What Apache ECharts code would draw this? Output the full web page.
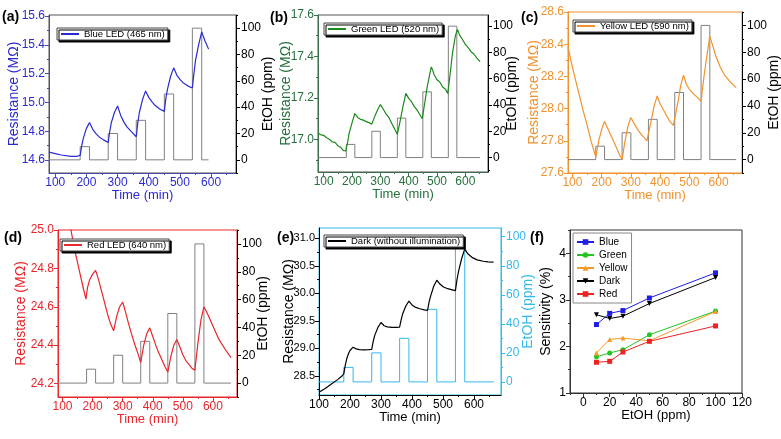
<!DOCTYPE html>
<html>
<head>
<meta charset="utf-8">
<script src="https://cdn.jsdelivr.net/npm/echarts@6/dist/echarts.min.js"></script>
<style>
html, body { margin: 0; padding: 0; background: #fff; }
#chart { width: 781px; height: 439px; }
</style>
</head>
<body>
<div id="chart"></div>
<script>
// ethanol pulses (same for every LED run)
var pulseStart = [180, 270, 360, 450, 540];
var pulseConc = [10, 20, 30, 50, 100];
var pulseWidth = 30;

var timeTicks = [100, 200, 300, 400, 500, 600];
var ppmTicks = [0, 20, 40, 60, 80, 100];

// (a) blue LED
var blueT = [80,100,120,150,170,180,185,190,200,210,220,230,240,255,270,275,280,290,300,310,320,330,345,360,365,370,380,390,400,410,420,435,450,455,460,470,480,490,500,510,525,540,545,550,560,570,580,592];
var blueR = [14.655,14.645,14.635,14.625,14.626,14.632,14.70,14.75,14.82,14.86,14.815,14.785,14.762,14.74,14.722,14.80,14.86,14.93,14.975,14.91,14.865,14.83,14.795,14.762,14.86,14.93,15.02,15.08,15.035,15.005,14.98,14.955,14.938,15.03,15.09,15.18,15.24,15.19,15.16,15.137,15.115,15.10,15.20,15.29,15.40,15.49,15.43,15.37];

// (b) green LED
var greenT = [80,90,100,110,120,130,140,150,160,170,178,185,190,200,210,215,220,230,240,250,260,270,280,290,300,305,310,320,330,340,350,360,370,380,390,400,410,420,430,440,448,455,465,475,480,485,490,500,510,520,530,538,545,555,565,572,580,590,600,610,620,630,640,652];
var greenR = [17.032,17.022,17.020,17.008,17.001,16.988,16.986,16.970,16.962,16.946,16.945,16.99,17.03,17.08,17.125,17.116,17.106,17.097,17.093,17.086,17.081,17.074,17.11,17.142,17.168,17.158,17.147,17.123,17.106,17.078,17.052,17.025,17.09,17.16,17.222,17.198,17.182,17.158,17.142,17.118,17.10,17.16,17.25,17.32,17.35,17.333,17.312,17.288,17.277,17.253,17.242,17.222,17.30,17.42,17.50,17.53,17.503,17.482,17.458,17.443,17.423,17.412,17.393,17.375];

// (c) yellow LED
var yellowT = [85,95,105,120,135,150,165,180,190,200,210,220,235,250,262,270,280,290,300,310,325,340,355,360,370,380,390,400,415,430,445,450,460,470,480,490,500,515,530,540,550,560,570,580,590,605,620,640,660];
var yellowR = [28.38,28.30,28.22,28.11,28.00,27.90,27.79,27.70,27.80,27.87,27.92,27.88,27.82,27.76,27.71,27.685,27.80,27.89,27.945,27.91,27.865,27.83,27.80,27.795,27.93,28.02,28.078,28.03,27.98,27.93,27.895,27.89,28.03,28.14,28.208,28.15,28.12,28.09,28.065,28.045,28.20,28.33,28.45,28.39,28.33,28.26,28.21,28.165,28.13];

// (d) red LED
var redT = [85,110,128,140,150,160,170,178,183,190,200,210,220,230,240,250,260,270,280,290,300,310,320,330,340,350,360,370,380,390,400,410,420,430,440,450,460,470,480,490,500,510,520,530,540,550,560,570,580,600,620,640,660];
var redR = [25.30,25.13,25.00,24.90,24.83,24.76,24.69,24.64,24.70,24.74,24.77,24.79,24.74,24.68,24.62,24.56,24.51,24.475,24.55,24.60,24.625,24.57,24.51,24.455,24.405,24.36,24.31,24.40,24.46,24.49,24.445,24.40,24.36,24.325,24.29,24.26,24.34,24.40,24.43,24.39,24.35,24.32,24.30,24.28,24.27,24.41,24.53,24.60,24.57,24.50,24.43,24.38,24.335];

// (e) dark
var darkT = [100,120,140,160,175,180,185,190,195,200,210,220,230,245,260,270,275,280,290,300,310,320,335,350,360,365,370,380,390,400,410,425,440,450,455,460,470,480,490,500,515,530,540,545,550,560,570,580,595,610,630,645,663];
var darkR = [28.20,28.27,28.35,28.43,28.50,28.54,28.70,28.82,28.90,28.96,29.02,28.99,28.975,28.97,28.975,28.98,29.13,29.24,29.38,29.47,29.41,29.39,29.38,29.38,29.385,29.52,29.63,29.77,29.86,29.79,29.75,29.72,29.70,29.69,29.84,29.95,30.13,30.24,30.17,30.12,30.085,30.065,30.05,30.25,30.40,30.63,30.81,30.72,30.65,30.61,30.585,30.575,30.57];

// (f) sensitivity vs EtOH
var ppmLevels = [10, 20, 30, 50, 100];
var sensBlue = [2.47, 2.71, 2.77, 3.04, 3.58];
var sensGreen = [1.78, 1.86, 1.93, 2.25, 2.76];
var sensYellow = [1.86, 2.15, 2.18, 2.12, 2.75];
var sensDark = [2.68, 2.60, 2.65, 2.92, 3.48];
var sensRed = [1.66, 1.68, 1.88, 2.11, 2.44];

var FONT = "'Liberation Sans', Arial, sans-serif";

function zip(a, b) {
    var res = [];
    for (var i = 0; i < a.length; i++) res.push([a[i], b[i]]);
    return res;
}

function stepData(t0, t1) {
    var d = [[t0, 0]];
    for (var i = 0; i < pulseStart.length; i++) {
        var s = pulseStart[i], e = s + pulseWidth;
        d.push([s, 0], [s, pulseConc[i]], [e, pulseConc[i]], [e, 0]);
    }
    d.push([t1, 0]);
    return d;
}

// minor tick positions: halfway between the major ticks, plus one beyond each end if inside the range
function halfTicks(ticks, min, max) {
    var h = (ticks[1] - ticks[0]) / 2, res = [];
    var first = ticks[0] - h, last = ticks[ticks.length - 1] + h;
    if (first >= min) res.push(first);
    for (var i = 0; i < ticks.length - 1; i++) res.push((ticks[i] + ticks[i + 1]) / 2);
    if (last <= max) res.push(last);
    return res;
}

var grids = [], xAxes = [], yAxes = [], series = [], legends = [], graphics = [];

function legendBox(names, left, top, extra) {
    var l = {
        data: names, left: left, top: top,
        backgroundColor: '#fff', borderColor: '#444', borderWidth: 1,
        shadowColor: '#000', shadowOffsetX: 2, shadowOffsetY: 2, shadowBlur: 0,
        padding: [1, 3, 1, 3], itemGap: 2, itemWidth: 18, itemHeight: 10,
        selectedMode: false,
        textStyle: { fontSize: 9.5, fontFamily: FONT, color: '#000' }
    };
    for (var k in extra) l[k] = extra[k];
    legends.push(l);
}

function panelLabel(txt, x, y) {
    graphics.push({ type: 'text', left: x, top: y,
        style: { text: txt, font: "bold 14px 'Liberation Sans', Arial, sans-serif", fill: '#000' } });
}

// an empty overlay grid that only carries the short minor ticks
function minorGrid(box, x, xt, xc, yl, ylt, ylc, yr, yrt, yrc) {
    var gi = grids.length;
    grids.push({ left: box[0], top: box[1], width: box[2], height: box[3], outerBoundsMode: 'none' });
    function ax(min, max, vals, color, pos) {
        return { gridIndex: gi, type: 'value', min: min, max: max, position: pos,
            axisLine: { show: false, onZero: false },
            axisTick: { show: true, length: 2, customValues: vals, lineStyle: { color: color } },
            axisLabel: { show: false }, splitLine: { show: false } };
    }
    xAxes.push(ax(x[0], x[1], xt, xc, 'bottom'));
    yAxes.push(ax(yl[0], yl[1], ylt, ylc, 'left'));
    if (yr) yAxes.push(ax(yr[0], yr[1], yrt, yrc, 'right'));
}

function timePanel(p) {
    var gi = grids.length;
    grids.push({ left: p.box[0], top: p.box[1], width: p.box[2], height: p.box[3],
        show: true, borderColor: p.frame, borderWidth: 1, outerBoundsMode: 'none' });
    var xi = xAxes.length;
    xAxes.push({
        gridIndex: gi, type: 'value', min: p.x[0], max: p.x[1],
        name: 'Time (min)', nameLocation: 'middle', nameGap: 16, nameMoveOverlap: false,
        nameTextStyle: { color: p.text, fontSize: 13, fontFamily: FONT },
        axisLine: { onZero: false, lineStyle: { color: p.axis } },
        axisTick: { length: 4, customValues: timeTicks, lineStyle: { color: p.axis } },
        axisLabel: { customValues: timeTicks, color: p.text, fontSize: 12, margin: 4, fontFamily: FONT },
        splitLine: { show: false }
    });
    var yi = yAxes.length;
    yAxes.push({
        gridIndex: gi, type: 'value', position: 'left', min: p.y[0], max: p.y[1],
        name: 'Resistance (M\u03a9)', nameLocation: 'middle', nameGap: p.gapL, nameRotate: 90,
        nameMoveOverlap: false,
        nameTextStyle: { color: p.text, fontSize: 14, fontFamily: FONT },
        axisLine: { show: true, onZero: false, lineStyle: { color: p.axis } },
        axisTick: { show: true, length: 4, customValues: p.yTicks, lineStyle: { color: p.axis } },
        axisLabel: { customValues: p.yTicks, color: p.text, fontSize: p.lsize || 12, margin: 4, fontFamily: FONT,
            formatter: function (v) { return v.toFixed(1); } },
        splitLine: { show: false }
    });
    yAxes.push({
        gridIndex: gi, type: 'value', position: 'right', min: p.ppm[0], max: p.ppm[1],
        name: 'EtOH (ppm)', nameLocation: 'middle', nameGap: p.gapR, nameRotate: 90,
        nameMoveOverlap: false,
        nameTextStyle: { color: p.rtext, fontSize: 14, fontFamily: FONT },
        axisLine: { show: true, onZero: false, lineStyle: { color: p.raxis } },
        axisTick: { show: true, length: 4, customValues: ppmTicks, lineStyle: { color: p.raxis } },
        axisLabel: { customValues: ppmTicks, color: p.rtext, fontSize: 12, margin: 5, fontFamily: FONT },
        splitLine: { show: false }
    });
    series.push({
        name: p.name, type: 'line', xAxisIndex: xi, yAxisIndex: yi,
        data: zip(p.t, p.r), symbol: 'none', z: 3,
        lineStyle: { color: p.line, width: 1.2 }, itemStyle: { color: p.line }
    });
    series.push({
        name: p.name + ' EtOH', type: 'line', xAxisIndex: xi, yAxisIndex: yi + 1,
        data: stepData(p.steps[0], p.steps[1]), symbol: 'none', z: 2,
        lineStyle: { color: p.step, width: 1 }, itemStyle: { color: p.step }
    });
    minorGrid(p.box, p.x, halfTicks(timeTicks, p.x[0], p.x[1]), p.axis,
        p.y, halfTicks(p.yTicks, p.y[0], p.y[1]), p.axis,
        p.ppm, halfTicks(ppmTicks, p.ppm[0], p.ppm[1]), p.raxis);
    // line only in the legend, no marker
    legendBox([p.name], p.leg[0], p.leg[1], { itemStyle: { opacity: 0 } });
    panelLabel(p.label, p.lab[0], p.lab[1]);
}

timePanel({ name: 'Blue LED (465 nm)', label: '(a)', lab: [2, 10], box: [49, 15, 187, 158],
    x: [80, 680], y: [14.51, 15.607], yTicks: [14.6, 14.8, 15.0, 15.2, 15.4, 15.6], ppm: [-10, 110],
    t: blueT, r: blueR, steps: [80, 592], leg: [57, 28], gapL: 28, gapR: 25,
    text: '#2a2ad0', line: '#2a2ad0', axis: '#4a4aa8', frame: '#555', rtext: '#000', raxis: '#000', step: '#808080' });

timePanel({ name: 'Green LED (520 nm)', label: '(b)', lab: [270, 11], box: [318, 15, 170, 157],
    x: [80, 680], y: [16.843, 17.6], yTicks: [17.0, 17.2, 17.4, 17.6], ppm: [-11, 108.5],
    t: greenT, r: greenR, steps: [80, 652], leg: [324, 23], gapL: 25, gapR: 17,
    text: '#26703c', line: '#1b8a1b', axis: '#3d6e4b', frame: '#555', rtext: '#000', raxis: '#000', step: '#808080' });

timePanel({ name: 'Yellow LED (590 nm)', label: '(c)', lab: [521, 11], box: [568, 12, 174, 161],
    x: [85, 680], y: [27.6, 28.6], yTicks: [27.6, 27.8, 28.0, 28.2, 28.4, 28.6], ppm: [-10, 110],
    t: yellowT, r: yellowR, steps: [85, 660], leg: [573, 20], gapL: 27, gapR: 25,
    text: '#f0922e', line: '#f0922e', axis: '#f0922e', frame: '#f0922e', rtext: '#000', raxis: '#000', step: '#808080' });

timePanel({ name: 'Red LED (640 nm)', label: '(d)', lab: [4, 231], box: [58, 230, 179, 167],
    x: [85, 680], y: [24.13, 25.0], yTicks: [24.2, 24.4, 24.6, 24.8, 25.0], ppm: [-10, 110],
    t: redT, r: redR, steps: [85, 660], leg: [60, 239], gapL: 30, gapR: 19,
    text: '#e8262b', line: '#e8262b', axis: '#e8262b', frame: '#e8262b', rtext: '#000', raxis: '#000', step: '#808080' });

timePanel({ name: 'Dark (without illumination)', label: '(e)', lab: [277, 231], box: [319, 228, 182, 167],
    x: [100, 687], y: [28.15, 31.19], yTicks: [28.5, 29.0, 29.5, 30.0, 30.5, 31.0], ppm: [-9, 106],
    t: darkT, r: darkR, steps: [100, 664], leg: [324, 235], gapL: 23, gapR: 20, lsize: 11,
    text: '#000', line: '#000', axis: '#000', frame: '#35b8ea', rtext: '#35b8ea', raxis: '#35b8ea', step: '#35b8ea' });

// (f) sensitivity panel
(function () {
    var gi = grids.length;
    var box = [570, 230, 172, 163];
    var xt = [0, 20, 40, 60, 80, 100, 120];
    var yt = [1, 2, 3, 4];
    grids.push({ left: box[0], top: box[1], width: box[2], height: box[3], show: true,
        borderColor: '#333', borderWidth: 1, outerBoundsMode: 'none' });
    var xi = xAxes.length;
    xAxes.push({
        gridIndex: gi, type: 'value', min: -10, max: 120,
        name: 'EtOH (ppm)', nameLocation: 'middle', nameGap: 16, nameMoveOverlap: false,
        nameTextStyle: { color: '#000', fontSize: 13, fontFamily: FONT },
        axisLine: { onZero: false, lineStyle: { color: '#333' } },
        axisTick: { length: 4, customValues: xt, lineStyle: { color: '#333' } },
        axisLabel: { customValues: xt, color: '#000', fontSize: 12, margin: 4, fontFamily: FONT },
        splitLine: { show: false }
    });
    var yi = yAxes.length;
    yAxes.push({
        gridIndex: gi, type: 'value', min: 1, max: 4.5,
        name: 'Sensitivity (%)', nameLocation: 'middle', nameGap: 17, nameRotate: 90,
        nameMoveOverlap: false,
        nameTextStyle: { color: '#000', fontSize: 14, fontFamily: FONT },
        axisLine: { show: true, onZero: false, lineStyle: { color: '#333' } },
        axisTick: { show: true, length: 4, customValues: yt, lineStyle: { color: '#333' } },
        axisLabel: { customValues: yt, color: '#000', fontSize: 12, margin: 4, fontFamily: FONT },
        splitLine: { show: false }
    });
    var defs = [
        ['Blue', sensBlue, '#1e1ee6', 'rect', 0],
        ['Green', sensGreen, '#22c522', 'circle', 0],
        ['Yellow', sensYellow, '#f59a2a', 'triangle', 0],
        ['Dark', sensDark, '#000', 'triangle', 180],
        ['Red', sensRed, '#ee2222', 'rect', 0]
    ];
    defs.forEach(function (d) {
        series.push({
            name: d[0], type: 'line', xAxisIndex: xi, yAxisIndex: yi,
            data: zip(ppmLevels, d[1]), symbol: d[3], symbolRotate: d[4], symbolSize: 5,
            lineStyle: { color: d[2], width: 1 }, itemStyle: { color: d[2] }, z: 3
        });
    });
    minorGrid(box, [-10, 120], halfTicks(xt, -10, 120), '#333', [1, 4.5], halfTicks(yt, 1, 4.5), '#333');
    legendBox(['Blue', 'Green', 'Yellow', 'Dark', 'Red'], 573, 233,
        { orient: 'vertical', shadowOffsetX: 0, shadowOffsetY: 0, borderColor: '#888',
          itemWidth: 17, itemHeight: 7, itemGap: 1, padding: [3, 4, 3, 3],
          textStyle: { fontSize: 10, lineHeight: 12, fontFamily: FONT, color: '#000' } });
    panelLabel('(f)', 530, 231);
})();

var myChart = echarts.init(document.getElementById('chart'));
var option = {
    backgroundColor: '#fff',
    animation: false,
    textStyle: { fontFamily: FONT },
    grid: grids,
    xAxis: xAxes,
    yAxis: yAxes,
    legend: legends,
    graphic: graphics,
    series: series
};
myChart.setOption(option);
</script>
</body>
</html>
